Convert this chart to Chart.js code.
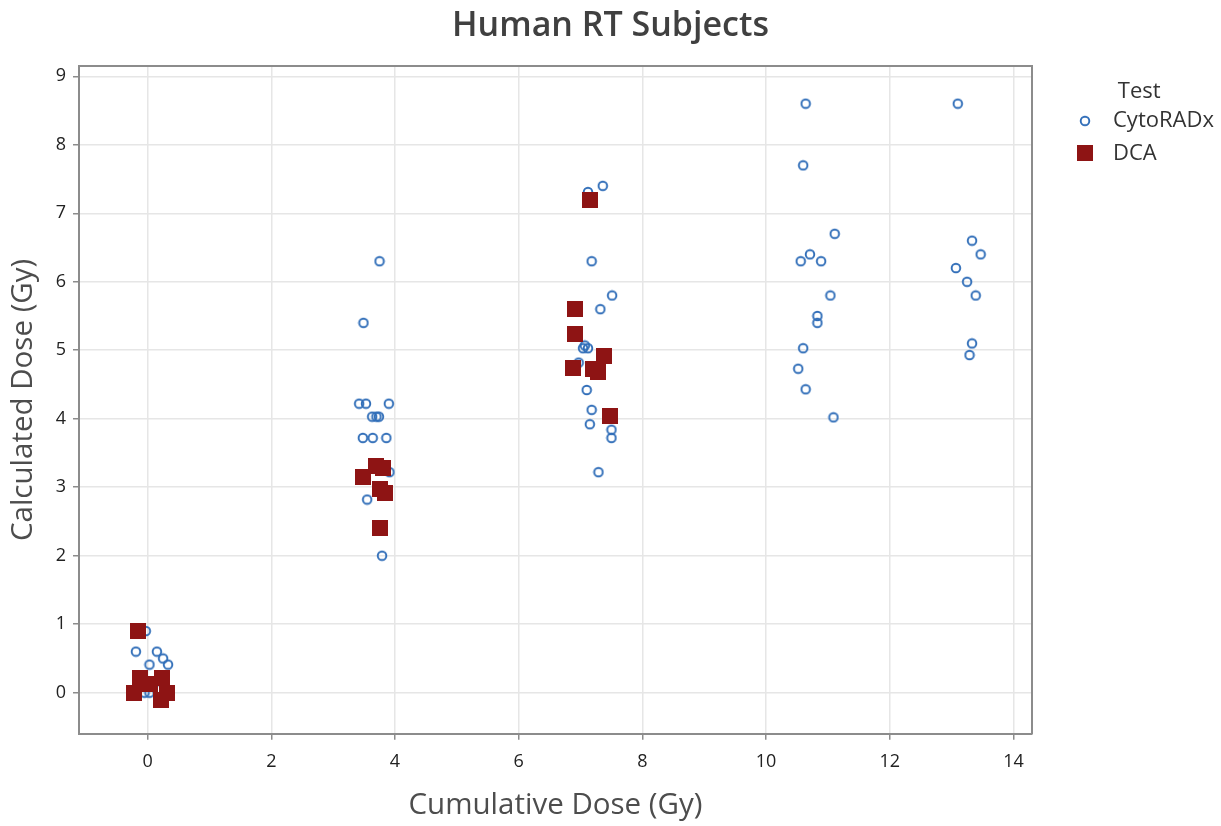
<!DOCTYPE html>
<html>
<head>
<meta charset="utf-8">
<title>Human RT Subjects</title>
<script src="https://cdn.jsdelivr.net/npm/chart.js@4.4.1/dist/chart.umd.min.js"></script>
<style>
  html, body { margin: 0; padding: 0; background: #fff; }
</style>
</head>
<body>
<canvas id="scatter" width="1221" height="826"></canvas>
<script>
// CytoRADx (open circles)
const cytoX = [
  -0.03, -0.19, 0.15, 0.25, 0.33, 0.03, -0.05, 0.03, 0.15,
  3.75, 3.49, 3.42, 3.53, 3.90, 3.63, 3.70, 3.74, 3.48, 3.64, 3.86, 3.91, 3.55, 3.79,
  7.12, 7.36, 7.18, 7.51, 7.32, 7.07, 7.04, 7.12, 6.97, 7.10, 7.18, 7.15, 7.50, 7.50, 7.29,
  10.64, 10.60, 11.11, 10.71, 10.56, 10.89, 11.04, 10.83, 10.83, 10.60, 10.52, 10.64, 11.09,
  13.10, 13.33, 13.47, 13.07, 13.25, 13.39, 13.33, 13.29
];
const cytoY = [
  0.9, 0.6, 0.6, 0.5, 0.41, 0.41, 0.0, 0.0, 0.05,
  6.3, 5.4, 4.22, 4.22, 4.22, 4.03, 4.03, 4.03, 3.72, 3.72, 3.72, 3.22, 2.82, 2.0,
  7.31, 7.4, 6.3, 5.8, 5.6, 5.07, 5.03, 5.03, 4.82, 4.42, 4.13, 3.92, 3.84, 3.72, 3.22,
  8.6, 7.7, 6.7, 6.4, 6.3, 6.3, 5.8, 5.5, 5.4, 5.03, 4.73, 4.43, 4.02,
  8.6, 6.6, 6.4, 6.2, 6.0, 5.8, 5.1, 4.93
];

// DCA (filled squares)
const dcaX = [
  -0.15, -0.13, 0.23, 0.04, -0.22, 0.31, 0.21,
  3.49, 3.69, 3.80, 3.75, 3.84, 3.76,
  7.15, 6.91, 6.91, 6.87, 7.38, 7.20, 7.29, 7.48
];
const dcaY = [
  0.9, 0.22, 0.22, 0.12, 0.0, 0.0, -0.11,
  3.15, 3.31, 3.28, 2.97, 2.91, 2.41,
  7.2, 5.6, 5.24, 4.74, 4.92, 4.73, 4.68, 4.04
];

const xTicks = [0, 2, 4, 6, 8, 10, 12, 14];
const yTicks = [0, 1, 2, 3, 4, 5, 6, 7, 8, 9];

const axisGray = "#8c8c8c";
const gridGray = "#e6e6e6";

Chart.defaults.font.family = "'Open Sans', sans-serif";
Chart.defaults.color = "#333333";

function marker(size, draw) {
  const c = document.createElement("canvas");
  c.width = size;
  c.height = size;
  draw(c.getContext("2d"));
  return c;
}

const openCircle = marker(12, (g) => {
  g.strokeStyle = "#2f6db8";
  g.lineWidth = 1.9;
  g.beginPath();
  g.arc(6, 6, 4.3, 0, 2 * Math.PI);
  g.stroke();
});

const filledSquare = marker(16, (g) => {
  g.fillStyle = "#8e1414";
  g.fillRect(0, 0, 16, 16);
});

// fixed legend width, so the legend sits where the original one does
const legendWidth = {
  id: "legendWidth",
  beforeInit(chart) {
    const fit = chart.legend.fit;
    chart.legend.fit = function () {
      fit.bind(chart.legend)();
      this.width = 163.5;
    };
  },
};

new Chart(document.getElementById("scatter"), {
  type: "scatter",
  data: {
    datasets: [
      {
        label: "CytoRADx",
        data: cytoX.map((x, i) => ({ x, y: cytoY[i] })),
        pointStyle: openCircle,
        pointRadius: 5,
        order: 1,
      },
      {
        label: "DCA",
        data: dcaX.map((x, i) => ({ x, y: dcaY[i] })),
        pointStyle: filledSquare,
        pointRadius: 8,
        order: 0,
      },
    ],
  },
  options: {
    responsive: false,
    animation: false,
    layout: { padding: 0 },
    scales: {
      x: {
        type: "linear",
        min: -1.11,
        max: 14.3,
        afterBuildTicks: (scale) => {
          scale.ticks = xTicks.map((v) => ({ value: v }));
        },
        grid: { color: gridGray, lineWidth: 1.5, tickColor: axisGray, tickLength: 6, tickWidth: 1.5 },
        border: { color: axisGray, width: 2 },
        ticks: { padding: 11, font: { size: 18 }, color: "#222222" },
        title: {
          display: true,
          text: "Cumulative Dose (Gy)",
          font: { size: 29.5 },
          color: "#4d4d4d",
          padding: { top: 4.9, bottom: 2.3 },
        },
      },
      y: {
        type: "linear",
        min: -0.6,
        max: 9.15,
        afterBuildTicks: (scale) => {
          scale.ticks = yTicks.map((v) => ({ value: v }));
        },
        grid: { color: gridGray, lineWidth: 1.5, tickColor: axisGray, tickLength: 6, tickWidth: 1.5 },
        border: { color: axisGray, width: 2 },
        ticks: { padding: 7, font: { size: 18 }, color: "#222222" },
        title: {
          display: true,
          text: "Calculated Dose (Gy)",
          font: { size: 29.5 },
          color: "#4d4d4d",
          padding: { top: 6.3, bottom: 7 },
        },
      },
      // frame on top and right
      x2: {
        type: "linear",
        position: "top",
        ticks: { display: false },
        grid: { drawOnChartArea: false, drawTicks: false },
        border: { color: axisGray, width: 2 },
      },
      y2: {
        type: "linear",
        position: "right",
        ticks: { display: false },
        grid: { drawOnChartArea: false, drawTicks: false },
        border: { color: axisGray, width: 2 },
        afterFit: (scale) => {
          scale.width = 25.5;
        },
      },
    },
    plugins: {
      title: {
        display: true,
        text: "Human RT Subjects",
        color: "#404040",
        font: { size: 34, weight: "600" },
        padding: { top: 5.6, bottom: 19.6 },
      },
      legend: {
        position: "right",
        align: "start",
        title: {
          display: true,
          text: "Test",
          color: "#333333",
          font: { size: 22 },
          padding: { top: 81, bottom: -8 },
        },
        labels: {
          usePointStyle: true,
          pointStyleWidth: 34,
          padding: 10.5,
          color: "#333333",
          font: { size: 22 },
          sort: (a, b) => a.datasetIndex - b.datasetIndex,
        },
      },
      tooltip: { enabled: false },
    },
  },
  plugins: [legendWidth],
});
</script>
</body>
</html>
